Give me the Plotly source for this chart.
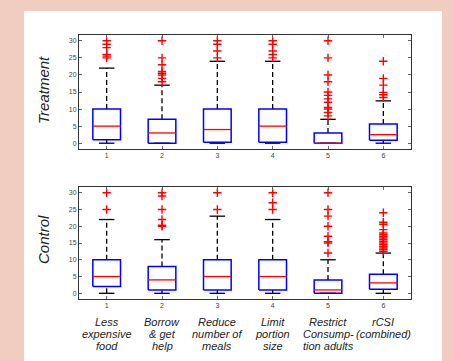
import plotly.graph_objects as go

categories = [1, 2, 3, 4, 5, 6]
category_labels = [
    ["Less", "expensive", "food"],
    ["Borrow", "& get", "help"],
    ["Reduce", "number of", "meals"],
    ["Limit", "portion", "size"],
    ["Restrict", "Consump-", "tion adults"],
    ["rCSI", "(combined)"],
]
y_ticks = [0, 5, 10, 15, 20, 25, 30]

# Treatment panel statistics
t_low = [0, 0, 0, 0, 0, 0]
t_q1 = [1, 0, 0.3, 0.3, 0, 0.9]
t_med = [5, 3, 4, 5, 0, 2.5]
t_q3 = [10, 7, 10, 10, 3, 5.6]
t_high = [22, 17, 24, 24, 7, 12.4]
t_out = [
    [25, 25.5, 26, 28, 29, 30],
    [18, 19, 20, 20.5, 21, 23, 25, 30],
    [25, 27, 29, 30],
    [25, 26, 27, 29, 30],
    [8, 9, 10, 10.5, 12, 13, 14, 15, 18, 20, 25, 30],
    [13.4, 14.2, 14.9, 17, 19, 24],
]

# Control panel statistics
c_low = [0, 0, 0, 0, 0, 0]
c_q1 = [2, 1, 1, 1, 0, 1.2]
c_med = [5, 4, 5, 5, 1, 3.1]
c_q3 = [10, 8, 10, 10, 4, 5.7]
c_high = [22, 16, 23, 22, 10, 12]
c_out = [
    [25, 30],
    [20, 20.3, 22, 25, 29, 30],
    [25, 30],
    [25, 27, 30],
    [12, 15, 15.4, 17, 20, 23, 25, 30],
    [12.5, 13, 13.5, 14, 14.5, 15, 15.5, 16, 16.5, 17, 17.5, 18, 19, 20.6, 21.2, 24],
]

BOX_HALF = 0.25
CAP_HALF = 0.14
W, H = 453, 361

fig = go.Figure()


def add_panel(xa, ya, low, q1, med, q3, high, outs):
    bx, by, mx, my, wx, wy, cx, cy, ox, oy = [], [], [], [], [], [], [], [], [], []
    for i, c in enumerate(categories):
        bx += [c - BOX_HALF, c + BOX_HALF, c + BOX_HALF, c - BOX_HALF, c - BOX_HALF, None]
        by += [q1[i], q1[i], q3[i], q3[i], q1[i], None]
        mx += [c - BOX_HALF, c + BOX_HALF, None]
        my += [med[i], med[i], None]
        wx += [c, c, None, c, c, None]
        wy += [q3[i], high[i], None, low[i], q1[i], None]
        cx += [c - CAP_HALF, c + CAP_HALF, None, c - CAP_HALF, c + CAP_HALF, None]
        cy += [high[i], high[i], None, low[i], low[i], None]
        for v in outs[i]:
            ox.append(c)
            oy.append(v)
    common = dict(xaxis=xa, yaxis=ya, showlegend=False, hoverinfo="skip")
    fig.add_trace(go.Scatter(x=wx, y=wy, mode="lines",
                             line=dict(color="black", width=1.3, dash="5px,3px"), **common))
    fig.add_trace(go.Scatter(x=cx, y=cy, mode="lines",
                             line=dict(color="black", width=1.3), **common))
    fig.add_trace(go.Scatter(x=bx, y=by, mode="lines",
                             line=dict(color="#0000ff", width=1.5), **common))
    fig.add_trace(go.Scatter(x=mx, y=my, mode="lines",
                             line=dict(color="#ff0000", width=1.3), **common))
    fig.add_trace(go.Scatter(x=ox, y=oy, mode="markers",
                             marker=dict(symbol="cross-thin", size=6,
                                         line=dict(color="#ff0000", width=1.4)),
                             **common))


add_panel("x", "y", t_low, t_q1, t_med, t_q3, t_high, t_out)
add_panel("x2", "y2", c_low, c_q1, c_med, c_q3, c_high, c_out)

tick_font = dict(family="Arial, Liberation Sans, sans-serif", size=7, color="#444")
xax = dict(range=[0.5, 6.5], tickvals=categories, ticktext=[str(c) for c in categories],
           showline=True, mirror="allticks", linecolor="#333", linewidth=1,
           ticks="inside", ticklen=3, tickcolor="#666", showgrid=False, zeroline=False,
           tickfont=tick_font, fixedrange=True)
yax = dict(range=[-1.7, 31.7], tickvals=y_ticks,
           showline=True, mirror="allticks", linecolor="#333", linewidth=1,
           ticks="inside", ticklen=3, tickcolor="#666", showgrid=False, zeroline=False,
           tickfont=tick_font, fixedrange=True)

xdom = [79 / W, 411 / W]
fig.update_layout(
    width=W, height=H,
    margin=dict(l=0, r=0, t=0, b=0, pad=0),
    paper_bgcolor="#f0cdc0",
    plot_bgcolor="white",
    xaxis=dict(xax, domain=xdom, anchor="y"),
    yaxis=dict(yax, domain=[1 - 149 / H, 1 - 35 / H], anchor="x"),
    xaxis2=dict(xax, domain=xdom, anchor="y2"),
    yaxis2=dict(yax, domain=[1 - 299 / H, 1 - 187 / H], anchor="x2"),
    shapes=[dict(type="rect", xref="paper", yref="paper", layer="below",
                 x0=24 / W, x1=442 / W, y0=0, y1=1 - 11 / H,
                 fillcolor="white", line=dict(width=0))],
)

title_font = dict(family="Arial, Liberation Sans, sans-serif", size=15, color="#222")
annotations = [
    dict(text="<i>Treatment</i>", xref="paper", yref="paper", x=43 / W, y=1 - 90 / H,
         textangle=-90, showarrow=False, font=title_font, xanchor="center", yanchor="middle"),
    dict(text="<i>Control</i>", xref="paper", yref="paper", x=43 / W, y=1 - 240 / H,
         textangle=-90, showarrow=False, font=title_font, xanchor="center", yanchor="middle"),
]
label_font = dict(family="Arial, Liberation Sans, sans-serif", size=11, color="#222")
for c, lines in zip(categories, category_labels):
    for j, line in enumerate(lines):
        annotations.append(dict(text="<i>" + line + "</i>", xref="x2", yref="paper",
                                x=c, y=1 - (322 + 12 * j) / H, showarrow=False,
                                font=label_font, xanchor="center", yanchor="middle"))
fig.update_layout(annotations=annotations)

fig.write_html("out.html", config={"displayModeBar": False},
               post_script="document.body.style.margin='0';document.body.style.overflow='hidden';")
